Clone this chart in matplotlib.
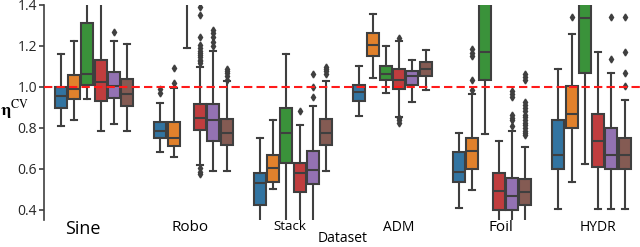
import matplotlib
matplotlib.use("Agg")
import matplotlib.pyplot as plt
import matplotlib.transforms as mtransforms

datasets = ["Sine", "Robo", "Stack", "ADM", "Foil", "HYDR"]
colors = ["#3274a1", "#e1812c", "#3a923a", "#c03d3e", "#9372b2", "#845b53"]

# per dataset, six hues each
whislo = [[0.810, 0.839, 0.941, 0.787, 0.821, 0.787],
          [0.681, 0.660, 1.190, 0.620, 0.590, 0.590],
          [0.330, 0.502, 0.330, 0.330, 0.330, 0.590],
          [0.857, 1.042, 0.969, 0.855, 0.927, 0.984],
          [0.410, 0.499, 0.768, 0.330, 0.330, 0.330],
          [0.403, 0.538, 0.626, 0.403, 0.403, 0.403]]
q1 = [[0.898, 0.941, 1.008, 0.933, 0.948, 0.907],
      [0.750, 0.712, 1.450, 0.792, 0.738, 0.716],
      [0.424, 0.537, 0.631, 0.485, 0.525, 0.716],
      [0.932, 1.151, 1.034, 0.990, 1.008, 1.054],
      [0.537, 0.598, 1.034, 0.399, 0.399, 0.426],
      [0.600, 0.801, 1.070, 0.611, 0.600, 0.600]]
med = [[0.956, 0.990, 1.063, 1.024, 1.003, 0.966],
       [0.785, 0.753, 1.500, 0.847, 0.836, 0.777],
       [0.530, 0.603, 0.774, 0.582, 0.592, 0.777],
       [0.974, 1.205, 1.065, 1.034, 1.054, 1.088],
       [0.585, 0.685, 1.169, 0.494, 0.468, 0.489],
       [0.668, 0.868, 1.338, 0.737, 0.668, 0.668]]
q3 = [[0.998, 1.057, 1.314, 1.132, 1.075, 1.037],
      [0.829, 0.829, 1.600, 0.916, 0.916, 0.844],
      [0.582, 0.668, 0.896, 0.631, 0.688, 0.844],
      [1.010, 1.263, 1.104, 1.088, 1.078, 1.122],
      [0.683, 0.753, 1.500, 0.580, 0.553, 0.551],
      [0.836, 1.002, 1.500, 0.868, 0.801, 0.753]]
whishi = [[1.161, 1.223, 1.600, 1.600, 1.223, 1.211],
          [0.920, 0.994, 1.800, 1.099, 1.176, 1.028],
          [0.753, 0.836, 1.161, 0.815, 0.909, 1.029],
          [1.102, 1.356, 1.198, 1.226, 1.132, 1.179],
          [0.777, 0.963, 1.800, 0.738, 0.785, 0.706],
          [1.086, 1.257, 1.800, 1.169, 1.070, 0.937]]
fliers = [[[], [], [], [], [1.268], []],
          [[0.989, 0.969], [1.094, 1.018], [],
           [1.389, 1.351, 1.245, 1.205, 1.189, 1.176, 1.164, 1.155, 1.145, 1.132, 1.124, 1.116, 0.603, 0.587, 0.576],
           [1.278, 1.262, 1.245, 1.221, 1.200],
           [1.088, 1.078, 1.067, 1.054, 1.034]],
          [[], [], [], [0.880], [1.063, 0.998, 0.950], [1.099, 1.088, 1.076, 1.063]],
          [[], [], [], [1.241, 0.847, 0.836, 0.826], [], []],
          [[], [1.184, 1.164, 1.151, 1.034, 0.985], [], [],
           [0.982, 0.966, 0.950, 0.863, 0.847, 0.836, 0.810],
           [1.063, 1.047, 1.034, 0.928, 0.912, 0.896, 0.880, 0.863, 0.852, 0.839, 0.826, 0.815, 0.798, 0.787, 0.774, 0.766]],
          [[], [1.340], [], [], [1.340, 1.135], [1.340, 1.172, 1.070, 1.002]]]

label_sizes = [13, 11, 9.5, 10, 11, 10]
label_shift = [-11, -3, -3, 6, 9, 6]  # pixels

plt.rcParams['font.family'] = ['Open Sans', 'DejaVu Sans']

fig = plt.figure(figsize=(6.4, 2.47), dpi=100)
ax = fig.add_axes([0.069, 0.109, 0.933, 0.871])

gray = "#3f3f3f"
hw = 0.8 / 6
for i in range(len(datasets)):
    for j in range(6):
        st = {"whislo": whislo[i][j], "q1": q1[i][j], "med": med[i][j],
              "q3": q3[i][j], "whishi": whishi[i][j], "fliers": fliers[i][j]}
        pos = i + (j - 2.5) * hw
        ax.bxp([st], positions=[pos], widths=hw * 0.9, patch_artist=True,
               boxprops=dict(facecolor=colors[j], edgecolor=gray, linewidth=1.5),
               medianprops=dict(color=gray, linewidth=1.5),
               whiskerprops=dict(color=gray, linewidth=1.5),
               capprops=dict(color=gray, linewidth=1.5),
               flierprops=dict(marker="d", markersize=3.5, markerfacecolor=gray,
                               markeredgecolor=gray, linestyle="none"),
               capwidths=hw * 0.45)

ax.axhline(1.0, color="#ff1a1a", linestyle="--", linewidth=1.5, dashes=(4, 2), zorder=10)

ax.set_xlim(-0.5, 5.5)
ax.set_ylim(0.35, 1.4)
ax.set_yticks([0.4, 0.6, 0.8, 1.0, 1.2, 1.4])
ax.set_yticklabels(["0.4", "0.6", "0.8", "1.0", "1.2", "1.4"])
ax.set_xticks(range(len(datasets)))
ax.set_xticklabels(datasets)
ax.tick_params(axis="x", length=0, pad=0)
ax.tick_params(axis="y", length=3.5, width=1.2, color="#3f3f3f", pad=1.5,
               labelsize=10, labelcolor="#262626")
for lab, s, dx in zip(ax.get_xticklabels(), label_sizes, label_shift):
    lab.set_fontsize(s)
    lab.set_transform(lab.get_transform() + mtransforms.ScaledTranslation(dx / 100, 0, fig.dpi_scale_trans))

for sp in ["top", "right", "bottom"]:
    ax.spines[sp].set_visible(False)
ax.spines["left"].set_color("#3f3f3f")
ax.spines["left"].set_linewidth(1.2)

ax.set_xlabel("Dataset", fontsize=10, va="center")
ax.xaxis.set_label_coords(0.5, -0.087)
ax.set_ylabel(r"$\mathbf{\eta}^{\mathrm{CV}}$", rotation=0, fontsize=12.5, ha="left", va="center",
              math_fontfamily="stix")
ax.yaxis.set_label_coords(-0.074, 0.515)

fig.savefig("out.png", dpi=100)
